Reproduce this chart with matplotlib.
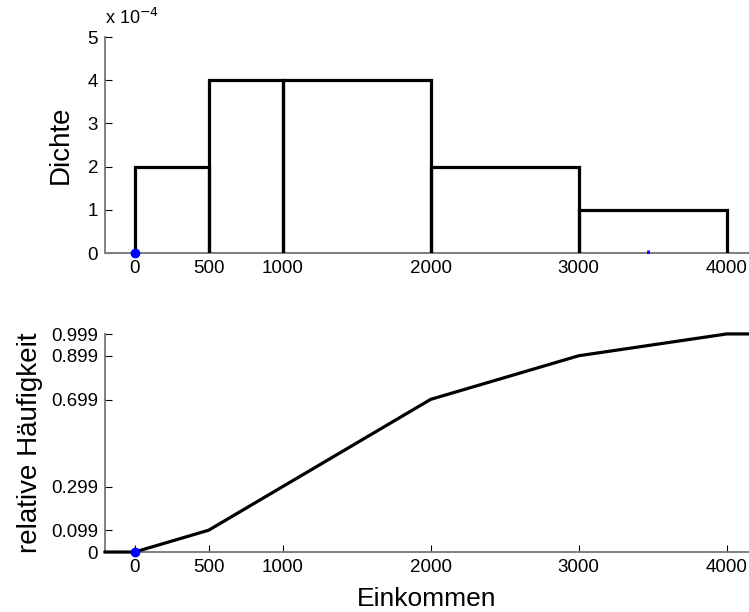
import matplotlib
matplotlib.use("Agg")
import matplotlib.pyplot as plt

# Klassengrenzen und Dichte (in Einheiten von 1e-4)
bin_edges = [0, 500, 1000, 2000, 3000, 4000]
density = [2, 4, 4, 2, 1]

# empirische Verteilungsfunktion
cdf_x = [-200, 0, 500, 1000, 2000, 3000, 4000, 4200]
cdf_y = [0, 0, 0.1, 0.3, 0.7, 0.9, 1.0, 1.0]

x_ticks = [0, 500, 1000, 2000, 3000, 4000]
cdf_ticks = [0, 0.099, 0.299, 0.699, 0.899, 0.999]
cdf_labels = ["0", "0.099", "0.299", "0.699", "0.899", "0.999"]
dens_ticks = [0, 1, 2, 3, 4, 5]

blue_x = [0, 3470]

plt.rcParams["font.family"] = ["Liberation Sans", "DejaVu Sans"]

fig = plt.figure(figsize=(7.49, 6.12), dpi=100)
ax1 = fig.add_axes([0.1402, 0.5866, 0.8598, 0.3529])
ax2 = fig.add_axes([0.1402, 0.098, 0.8598, 0.356])

grey = "#808080"
for ax in (ax1, ax2):
    for s in ("top", "right"):
        ax.spines[s].set_visible(False)
    for s in ("left", "bottom"):
        ax.spines[s].set_color(grey)
        ax.spines[s].set_linewidth(1.4)
    ax.tick_params(direction="in", length=5, width=0.8, color="black",
                   labelsize=13.5, pad=5)
    ax.set_xlim(-200, 4150)
    ax.set_xticks(x_ticks)
    ax.set_xticklabels([str(t) for t in x_ticks])

# Histogramm
for i, h in enumerate(density):
    l, r = bin_edges[i], bin_edges[i + 1]
    ax1.plot([l, l, r, r], [0, h, h, 0], color="black", lw=2.3,
             solid_joinstyle="miter", zorder=3)
ax1.axhline(0, color="black", lw=1.2, zorder=2)
ax1.plot(blue_x[0], 0, "o", color="blue", ms=6, zorder=4, clip_on=False)
ax1.plot(blue_x[1], 0, "|", color="blue", ms=4, mew=2, zorder=4)
ax1.set_ylim(0, 5)
ax1.set_yticks(dens_ticks)
ax1.set_yticklabels([str(t) for t in dens_ticks])
ax1.set_ylabel("Dichte", fontsize=20, labelpad=10)
ax1.text(0.0, 1.04, r"x 10$^{-4}$", transform=ax1.transAxes,
         fontsize=13, ha="left", va="bottom")

# Verteilungsfunktion
ax2.plot(cdf_x, cdf_y, color="black", lw=2.3, zorder=3, clip_on=False)
ax2.plot(blue_x[0], 0, "o", color="blue", ms=6, zorder=4, clip_on=False)
ax2.set_ylim(0, 0.999)
ax2.set_yticks(cdf_ticks)
ax2.set_yticklabels(cdf_labels)
ax2.set_ylabel("relative Häufigkeit", fontsize=20, labelpad=6)
ax2.set_xlabel("Einkommen", fontsize=19, labelpad=8)

fig.savefig("out.png", dpi=100)
